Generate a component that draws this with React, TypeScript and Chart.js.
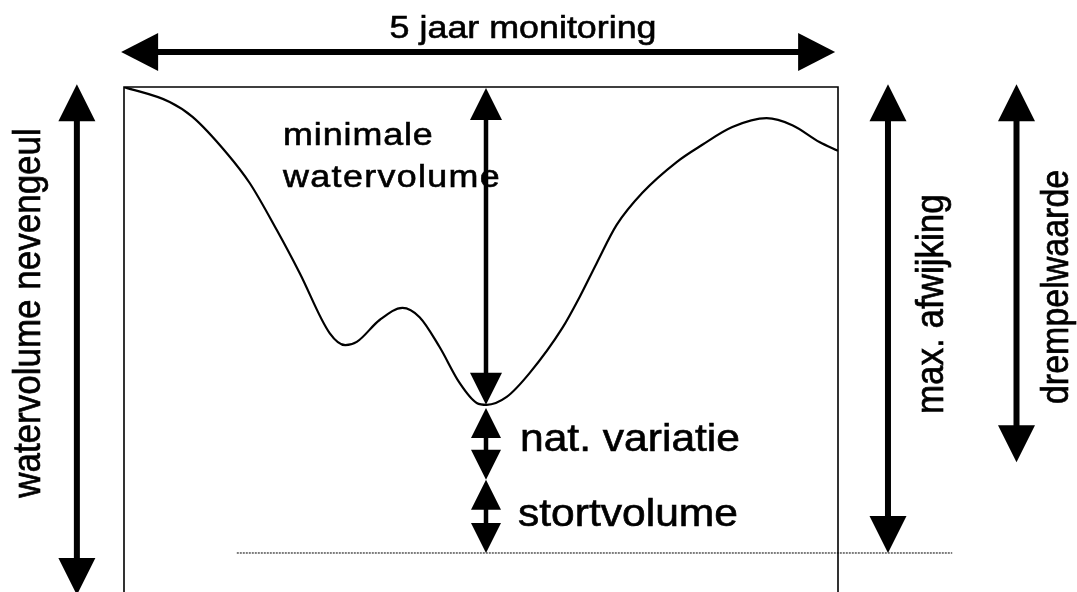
import React, { useEffect, useRef } from 'react';
import { Chart, registerables } from 'chart.js';

Chart.register(...registerables);

// Monitoring period (years) and water volume of the side channel (relative units)
const years = [0, 0.32, 0.48, 0.72, 0.88, 1.07, 1.23, 1.44, 1.55, 1.63, 1.79, 1.95, 2.07, 2.21, 2.35, 2.47, 2.54, 2.68, 2.84, 3.07, 3.19, 3.31, 3.45, 3.63, 3.87, 4.05, 4.26, 4.5, 4.68, 4.87, 5.0];
const volume = [100, 96.8, 93.6, 85.8, 79.4, 69.3, 60.1, 47.2, 44.6, 45.3, 50.0, 52.6, 50.6, 44.2, 36.5, 32.2, 31.8, 33.5, 38.6, 48.3, 54.9, 62.2, 70.4, 77.3, 83.9, 87.6, 91.4, 93.3, 91.8, 88.2, 86.3];

// Dotted threshold level
const thresholdYears = [0.79, 5.8];
const thresholdLevel = [0, 0];

// Horizontal "5 jaar monitoring" arrow
const periodArrowYears = [-0.02, 4.98];
const periodArrowLevel = 107.5;
const periodLabel = '5 jaar monitoring';

// Vertical double arrows
const arrowNames = ['watervolume nevengeul', 'minimale watervolume', 'nat. variatie', 'stortvolume', 'max. afwijking', 'drempelwaarde'];
const arrowYear = [-0.33, 2.535, 2.535, 2.535, 5.35, 6.25];
const arrowTop = [100.6, 99.8, 31.1, 15.7, 100.6, 100.6];
const arrowBottom = [-9.0, 31.8, 15.7, 0, 0, 19.5];

const FONT = '"Liberation Sans", Arial, Helvetica, sans-serif';
const STRETCH = 1.12;

function drawDoubleArrow(ctx: CanvasRenderingContext2D, x1: number, y1: number, x2: number, y2: number, lw: number, hl: number, hw: number) {
  const dx = x2 - x1;
  const dy = y2 - y1;
  const len = Math.hypot(dx, dy);
  const ux = dx / len;
  const uy = dy / len;
  const px = -uy;
  const py = ux;
  ctx.save();
  ctx.strokeStyle = '#000';
  ctx.fillStyle = '#000';
  ctx.lineWidth = lw;
  ctx.lineCap = 'butt';
  ctx.beginPath();
  ctx.moveTo(x1 + ux * (hl - 2), y1 + uy * (hl - 2));
  ctx.lineTo(x2 - ux * (hl - 2), y2 - uy * (hl - 2));
  ctx.stroke();
  ctx.beginPath();
  ctx.moveTo(x1, y1);
  ctx.lineTo(x1 + ux * hl + px * hw / 2, y1 + uy * hl + py * hw / 2);
  ctx.lineTo(x1 + ux * hl - px * hw / 2, y1 + uy * hl - py * hw / 2);
  ctx.closePath();
  ctx.fill();
  ctx.beginPath();
  ctx.moveTo(x2, y2);
  ctx.lineTo(x2 - ux * hl + px * hw / 2, y2 - uy * hl + py * hw / 2);
  ctx.lineTo(x2 - ux * hl - px * hw / 2, y2 - uy * hl - py * hw / 2);
  ctx.closePath();
  ctx.fill();
  ctx.restore();
}

function paintText(ctx: CanvasRenderingContext2D, text: string, size: number, align: CanvasTextAlign, spacing: number) {
  ctx.font = `${size}px ${FONT}`;
  ctx.fillStyle = '#000';
  ctx.strokeStyle = '#000';
  ctx.lineWidth = 0.6;
  ctx.textAlign = align;
  ctx.textBaseline = 'alphabetic';
  (ctx as any).letterSpacing = `${spacing}px`;
  ctx.fillText(text, 0, 0);
  ctx.strokeText(text, 0, 0);
}

function hText(ctx: CanvasRenderingContext2D, text: string, x: number, y: number, size: number, spacing = 0) {
  ctx.save();
  ctx.translate(x, y);
  ctx.scale(STRETCH, 1);
  paintText(ctx, text, size, 'left', spacing);
  ctx.restore();
}

function vText(ctx: CanvasRenderingContext2D, text: string, x: number, cy: number, size: number) {
  ctx.save();
  ctx.translate(x, cy);
  ctx.scale(STRETCH, 1);
  ctx.rotate(-Math.PI / 2);
  paintText(ctx, text, size, 'center', 0);
  ctx.restore();
}

const diagramPlugin = {
  id: 'diagram',
  beforeDatasetsDraw(chart: any) {
    const { ctx, chartArea } = chart;
    ctx.save();
    ctx.strokeStyle = '#000';
    ctx.lineWidth = 1.6;
    ctx.beginPath();
    ctx.moveTo(chartArea.left, chart.height + 2);
    ctx.lineTo(chartArea.left, chartArea.top);
    ctx.lineTo(chartArea.right, chartArea.top);
    ctx.lineTo(chartArea.right, chart.height + 2);
    ctx.stroke();
    ctx.restore();
  },
  afterDatasetsDraw(chart: any) {
    const { ctx } = chart;
    const xs = chart.scales.x;
    const ys = chart.scales.y;
    const X = (v: number) => xs.getPixelForValue(v);
    const Y = (v: number) => ys.getPixelForValue(v);

    const ay = Y(periodArrowLevel);
    drawDoubleArrow(ctx, X(periodArrowYears[0]), ay, X(periodArrowYears[1]), ay, 6, 37, 38);
    hText(ctx, periodLabel, X(1.86), Y(110.5), 32);

    const styles = [
      { lw: 6, hl: 37, hw: 37 },
      { lw: 4.5, hl: 32, hw: 32 },
      { lw: 4.5, hl: 30, hw: 30 },
      { lw: 4.5, hl: 30, hw: 30 },
      { lw: 6, hl: 37, hw: 37 },
      { lw: 6, hl: 37, hw: 37 },
    ];
    for (let i = 0; i < arrowNames.length; i++) {
      const s = styles[i];
      drawDoubleArrow(ctx, X(arrowYear[i]), Y(arrowTop[i]), X(arrowYear[i]), Y(arrowBottom[i]), s.lw, s.hl, s.hw);
    }

    vText(ctx, arrowNames[0], X(-0.59), Y(51.5), 35);
    hText(ctx, 'minimale', X(1.114), Y(87.6), 32, 0.8);
    hText(ctx, 'watervolume', X(1.114), Y(78.6), 32, 1.2);
    hText(ctx, arrowNames[2], X(2.773), Y(21.9), 38);
    hText(ctx, arrowNames[3], X(2.759), Y(5.8), 38);
    vText(ctx, arrowNames[4], X(5.735), Y(53.4), 35);
    vText(ctx, arrowNames[5], X(6.61), Y(57.1), 34);
  },
};

export default function App() {
  const ref = useRef<HTMLCanvasElement | null>(null);
  useEffect(() => {
    if (!ref.current) return;
    const chart = new Chart(ref.current, {
      type: 'line',
      data: {
        datasets: [
          {
            label: 'watervolume',
            data: years.map((x, i) => ({ x, y: volume[i] })),
            borderColor: '#000',
            borderWidth: 2.2,
            pointRadius: 0,
            cubicInterpolationMode: 'monotone',
            fill: false,
          },
          {
            label: 'drempel',
            data: thresholdYears.map((x, i) => ({ x, y: thresholdLevel[i] })),
            borderColor: '#000',
            borderWidth: 1,
            borderDash: [2, 1],
            pointRadius: 0,
            fill: false,
            clip: false,
          },
        ],
      },
      options: {
        animation: false,
        responsive: false,
        devicePixelRatio: 1,
        layout: { padding: { left: 124, top: 87, right: 239, bottom: 0 } },
        plugins: { legend: { display: false }, tooltip: { enabled: false } },
        events: [],
        scales: {
          x: { type: 'linear', min: 0, max: 5, display: false },
          y: { type: 'linear', min: -8.37, max: 100, display: false },
        },
      },
      plugins: [diagramPlugin],
    } as any);
    return () => chart.destroy();
  }, []);
  return (
    <div style={{ position: 'fixed', left: 0, top: 0, width: 1077, height: 592, background: '#fff' }}>
      <canvas ref={ref} width={1077} height={592} style={{ display: 'block', width: 1077, height: 592 }} />
    </div>
  );
}
